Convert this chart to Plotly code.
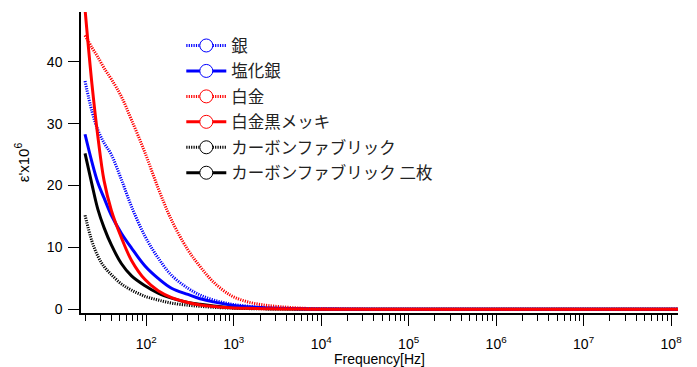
import plotly.graph_objects as go

# Frequency grid (Hz)
freq = [20, 24, 28, 33, 40, 52, 68, 97, 137, 195, 300, 414, 588, 912, 1400,
        2200, 3400, 6000, 1e4, 1e5, 1e6, 1e7, 1.2e8]

# epsilon' x 10^6 for each electrode
gin = [36.9, 32.0, 29.0, 26.9, 25.0, 21.0, 16.6, 11.8, 8.3, 5.5, 3.4, 2.3, 1.5,
       0.86, 0.53, 0.30, 0.18, 0.08, 0.04, 0.01, 0.01, 0.01, 0.01]
enkagin = [28.3, 23.8, 20.5, 18.0, 15.2, 12.3, 9.9, 7.0, 5.0, 3.4, 2.4, 1.7, 1.2,
           0.70, 0.42, 0.26, 0.16, 0.08, 0.04, 0.01, 0.01, 0.01, 0.01]
hakkin = [44.3, 42.3, 40.8, 39.0, 37.2, 34.4, 30.6, 25.3, 19.6, 14.4, 9.6, 6.9, 4.4,
          2.3, 1.25, 0.70, 0.42, 0.18, 0.08, 0.01, 0.01, 0.01, 0.01]
hakkin_black = [48.5, 36.4, 28.0, 20.8, 16.0, 11.6, 7.9, 4.8, 3.0, 1.9, 1.1, 0.7, 0.45,
                0.25, 0.15, 0.09, 0.05, 0.03, 0.02, 0.01, 0.01, 0.01, 0.01]
carbon = [15.2, 11.0, 8.6, 6.9, 5.6, 4.1, 3.1, 2.1, 1.5, 1.0, 0.65, 0.48, 0.32,
          0.20, 0.12, 0.07, 0.04, 0.02, 0.01, 0.0, 0.0, 0.0, 0.0]
carbon2 = [25.2, 20.2, 16.2, 13.2, 10.4, 7.4, 5.4, 3.8, 2.6, 1.8, 1.1, 0.8, 0.55,
           0.30, 0.19, 0.11, 0.07, 0.04, 0.02, 0.0, 0.0, 0.0, 0.0]

names = ["銀", "塩化銀", "白金", "白金黒メッキ", "カーボンファブリック", "カーボンファブリック 二枚"]
series = [gin, enkagin, hakkin, hakkin_black, carbon, carbon2]
colors = ["#0000FF", "#0000FF", "#FF0000", "#FF0000", "#000000", "#000000"]
dashes = ["1.2px,1.2px", "solid", "1.2px,1.2px", "solid", "1.2px,1.2px", "solid"]

x_tickvals = [1e2, 1e3, 1e4, 1e5, 1e6, 1e7, 1e8]
x_ticktext = ["10<sup>2</sup>", "10<sup>3</sup>", "10<sup>4</sup>", "10<sup>5</sup>",
              "10<sup>6</sup>", "10<sup>7</sup>", "10<sup>8</sup>"]
y_tickvals = [0, 10, 20, 30, 40]

fig = go.Figure()

draw_order = [4, 5, 0, 1, 2, 3]
for i in draw_order:
    fig.add_trace(go.Scatter(
        x=freq, y=series[i], mode="lines", name=names[i], showlegend=False,
        line=dict(color=colors[i], width=3, dash=dashes[i], shape="spline", smoothing=1.0),
    ))

for i in range(6):
    fig.add_trace(go.Scatter(
        x=[None], y=[None], mode="lines+markers", name=names[i], showlegend=True,
        legendgroup=f"g{i}",
        line=dict(color=colors[i], width=3, dash=dashes[i]),
        marker=dict(symbol="circle", size=13, color="white",
                    line=dict(color=colors[i], width=1)),
    ))

# page body adds an 8px offset; figure sized to fit the window
fig.update_layout(
    width=689, height=359,
    margin=dict(l=73, r=19, t=4, b=54, autoexpand=False),
    paper_bgcolor="white", plot_bgcolor="white",
    font=dict(family="Liberation Sans, Arial, sans-serif", size=14, color="black"),
    legend=dict(
        x=0.168, y=0.946, xanchor="left", yanchor="top",
        bgcolor="rgba(0,0,0,0)", borderwidth=0,
        font=dict(family="Noto Sans CJK JP", size=16.5, color="#222222"),
        itemwidth=40, tracegroupgap=1,
    ),
)

fig.update_xaxes(
    type="log", range=[1.255, 8.079], automargin=False,
    tickmode="array", tickvals=x_tickvals, ticktext=x_ticktext,
    ticks="outside", ticklen=11, tickwidth=1, tickcolor="black",
    showline=True, linecolor="black", linewidth=1.5,
    showgrid=False, zeroline=False,
    tickfont=dict(size=14), ticklabelstandoff=6,
    minor=dict(ticks="outside", ticklen=6, tickwidth=1, tickcolor="black",
               dtick="D1", showgrid=False),
    title=dict(text="Frequency[Hz]", font=dict(size=14), standoff=0),
)
fig.update_yaxes(
    range=[-0.6, 48.06], automargin=False,
    tickmode="array", tickvals=y_tickvals,
    ticks="outside", ticklen=11, tickwidth=1, tickcolor="black",
    showline=True, linecolor="black", linewidth=1.5,
    showgrid=False, zeroline=False,
    tickfont=dict(size=14), ticklabelstandoff=3,
    title=dict(text="ε'x10<sup>6</sup>", font=dict(size=15), standoff=14),
)

fig.write_html("out.html")
